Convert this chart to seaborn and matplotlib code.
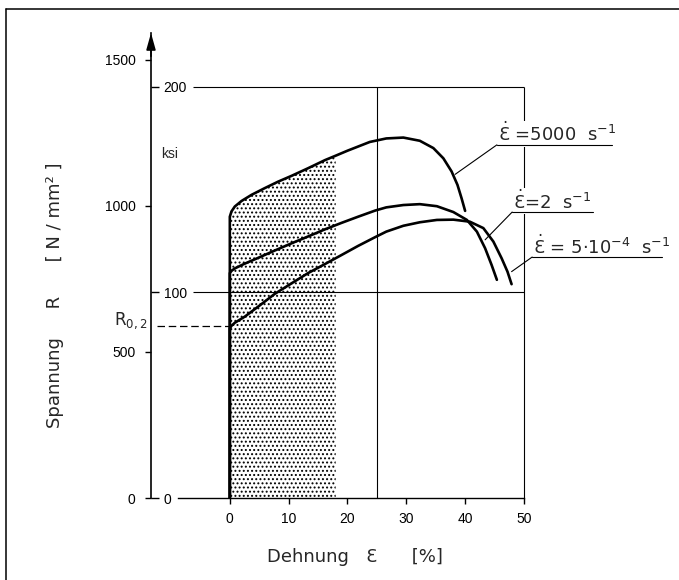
import numpy as np
import pandas as pd
import matplotlib
matplotlib.use('Agg')
import matplotlib.pyplot as plt
import seaborn as sns
from matplotlib.lines import Line2D

# stress-strain curves (strain in %, stress in N/mm2)
strain_fast = [0, 0, 0.28, 0.85, 2.0, 3.7, 5.95, 8.2, 10.5, 13.3, 16.2, 18, 20, 23.8,
               26.6, 29.5, 32.3, 34.6, 36.3, 37.7, 38.7, 39.4, 40.0]
stress_fast = [0, 963, 981, 998, 1017, 1038, 1061, 1083, 1103, 1129, 1157, 1172, 1189, 1219,
               1231, 1234, 1223, 1198, 1163, 1118, 1072, 1026, 983]

strain_mid = [0, 0, 0.3, 0.85, 2.5, 4.8, 7.5, 10.5, 13.5, 16.2, 19, 21.8, 24.7,
              26.6, 29.5, 32.3, 35.2, 38.0, 40.3, 42.0, 43.4, 44.5, 45.4]
stress_mid = [0, 770, 778, 786, 802, 822, 846, 872, 897, 920, 942, 963, 984,
              995, 1003, 1006, 999, 979, 952, 912, 855, 798, 747]

strain_slow = [0, 0, 0.3, 0.85, 2.55, 5, 7.65, 10.5, 13.3, 16, 19.0, 21.8, 24.7,
               26.6, 29.5, 32.3, 35.2, 38.0, 40.8, 43.1, 44.8, 46.2, 47.2, 47.9]
stress_slow = [0, 581, 590, 600, 621, 658, 699, 735, 770, 799, 832, 863, 893,
               912, 932, 944, 952, 953, 946, 924, 878, 821, 775, 732]

rate_labels = [r'$\dot{\mathrm{Ɛ}}$ =5000  s$^{-1}$',
               r'$\dot{\mathrm{Ɛ}}$=2  s$^{-1}$',
               r'$\dot{\mathrm{Ɛ}}$ = 5$\cdot$10$^{-4}$  s$^{-1}$']

x_ticks = [0, 10, 20, 30, 40, 50]
y_ticks = [0, 500, 1000, 1500]
ksi_ticks = [0, 100, 200]
ksi_lines = [100, 200]
ksi_factor = 7.04      # N/mm2 per ksi as drawn in the chart
r02 = 590              # yield strength R0,2 (N/mm2)
fill_edge = 18         # dotted area up to this strain
grid_x = [25, 50]

df = pd.concat([
    pd.DataFrame({'strain': strain_fast, 'stress': stress_fast, 'rate': 'fast'}),
    pd.DataFrame({'strain': strain_mid, 'stress': stress_mid, 'rate': 'mid'}),
    pd.DataFrame({'strain': strain_slow, 'stress': stress_slow, 'rate': 'slow'}),
])

sns.set_theme(style='ticks')
plt.rcParams['font.family'] = ['DejaVu Sans']
plt.rcParams['hatch.linewidth'] = 0.9
tick_font = ['Liberation Sans', 'DejaVu Sans']

fig = plt.figure(figsize=(6.79, 5.80), dpi=100)
fig.patch.set_facecolor('white')
ax = fig.add_axes([151 / 679, 82 / 580, 528 / 679, 465 / 580])
ax.set_facecolor('none')

sns.lineplot(data=df, x='strain', y='stress', units='rate', estimator=None, sort=False,
             color='black', linewidth=1.9, ax=ax, legend=False, zorder=5)

# dotted area under fastest curve
xs = np.array(strain_fast[1:])
ys = np.array(stress_fast[1:])
m = xs <= fill_edge
ax.fill_between(xs[m], 0, ys[m], facecolor='none', edgecolor='black', hatch='....',
                linewidth=0, zorder=1)

# ksi reference lines
ksi_y = [k * ksi_factor for k in ksi_lines]
ax.hlines(ksi_y, -6.3, 50, color='black', linewidth=0.8, zorder=2)
ax.vlines(grid_x, 0, max(ksi_y), color='black', linewidth=0.8, zorder=2)

# R0,2 dashed line
ax.plot([-12.4, 0], [r02, r02], color='black', linewidth=0.9, dashes=(6, 3), zorder=3)
ax.text(-14.1, r02 + 2, r'R$_{\mathregular{0,2}}$', ha='right', va='baseline', fontsize=12)
ax.text(-11.6, 1164, 'ksi', ha='left', va='baseline', fontsize=10, family=tick_font)

ax.set_xlim(-13.4, 76.36)
ax.set_ylim(0, 1592)
ax.set_xlabel('')
ax.set_ylabel('')
for s in ['top', 'right']:
    ax.spines[s].set_visible(False)
ax.spines['bottom'].set_bounds(-8.8, 50)
ax.spines['left'].set_linewidth(1.2)
ax.spines['bottom'].set_linewidth(1.0)
ax.spines['left'].set_color('black')
ax.spines['bottom'].set_color('black')
ax.set_xticks(x_ticks)
ax.set_yticks(y_ticks)
ax.tick_params(axis='x', direction='out', length=4, width=1, pad=6, labelsize=10, colors='black')
ax.tick_params(axis='y', direction='out', length=4, width=1, pad=7, labelsize=10, colors='black')
for lbl in ax.get_xticklabels() + ax.get_yticklabels():
    lbl.set_fontfamily(tick_font)

# ksi scale on the right of the stress axis
sec = ax.secondary_yaxis(0.0, functions=(lambda s: s / ksi_factor, lambda k: k * ksi_factor))
sec.set_alignment('right')
sec.set_yticks(ksi_ticks)
sec.tick_params(direction='out', length=6, width=1, pad=3, labelsize=10, colors='black')
sec.spines['right'].set_visible(False)
for lbl in sec.get_yticklabels():
    lbl.set_fontfamily(tick_font)

# arrow head on stress axis
ax.annotate('', xy=(0, 1), xytext=(0, 0.95), xycoords='axes fraction',
            arrowprops=dict(arrowstyle='-|>,head_length=1.0,head_width=0.28', color='black',
                            lw=1.2, shrinkA=0, shrinkB=0, mutation_scale=10))

# curve labels with underline and leader
label_pos = [(45.4, 1209, 65.0, 38.3, 1108),
             (48.0, 979, 61.7, 43.4, 884),
             (51.4, 825, 73.5, 47.9, 775)]
for txt, (x0, yu, x1, xc, yc) in zip(rate_labels, label_pos):
    ax.text(x0 + 0.2, yu + 12, txt, ha='left', va='baseline', fontsize=13, zorder=6,
            bbox=dict(facecolor='white', edgecolor='none', pad=1))
    ax.plot([x0, x1], [yu, yu], color='black', linewidth=0.8, zorder=7, clip_on=False)
    ax.plot([xc, x0], [yc, yu], color='black', linewidth=0.8, zorder=7, clip_on=False)

fig.text(55 / 679, 1 - 295 / 580, 'Spannung     R      [ N / mm² ]', rotation=90,
         ha='center', va='center', fontsize=13)
fig.text(355 / 679, 1 - 557 / 580, 'Dehnung   Ɛ      [%]', ha='center', va='center', fontsize=13)

# outer frame (left and top edges)
fig.add_artist(Line2D([6 / 679, 6 / 679], [0, 1 - 9 / 580], transform=fig.transFigure,
                      color='black', linewidth=1.1))
fig.add_artist(Line2D([6 / 679, 1], [1 - 9 / 580, 1 - 9 / 580], transform=fig.transFigure,
                      color='black', linewidth=1.1))

fig.savefig('out.png', dpi=100, facecolor='white')
